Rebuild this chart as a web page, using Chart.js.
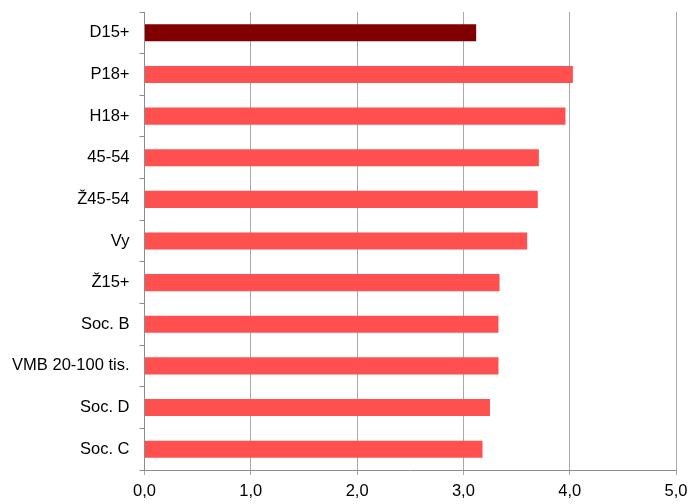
<!DOCTYPE html>
<html>
<head>
<meta charset="utf-8">
<script src="https://cdn.jsdelivr.net/npm/chart.js@4.4.0/dist/chart.umd.min.js"></script>
<style>
    html, body { margin: 0; padding: 0; background: #ffffff; }
    #wrap { width: 690px; height: 504px; }
</style>
</head>
<body>
<div id="wrap"><canvas id="graphCanvas" width="690" height="504"></canvas></div>
<script>
// Data
const categories = ['D15+', 'P18+', 'H18+', '45-54', 'Ž45-54', 'Vy', 'Ž15+', 'Soc. B', 'VMB 20-100 tis.', 'Soc. D', 'Soc. C'];
const values = [3.12, 4.03, 3.96, 3.71, 3.70, 3.60, 3.34, 3.33, 3.33, 3.25, 3.18];
const xTicks = [0, 1, 2, 3, 4, 5];

const highlight = '#800000';
const normal = '#ff5050';
const barColors = categories.map((c, i) => i === 0 ? highlight : normal);

const ctx = document.getElementById('graphCanvas').getContext('2d');

const chart = new Chart(ctx, {
    type: 'bar',
    data: {
        labels: categories,
        datasets: [{
            data: values,
            backgroundColor: barColors,
            borderWidth: 0,
            barPercentage: 0.41,
            categoryPercentage: 1.0
        }]
    },
    options: {
        indexAxis: 'y',
        responsive: false,
        animation: false,
        layout: {
            padding: { top: 12, right: 14, left: 0, bottom: 0 }
        },
        plugins: {
            legend: { display: false },
            tooltip: { enabled: false }
        },
        scales: {
            x: {
                type: 'linear',
                min: 0,
                max: 5,
                afterBuildTicks: function(scale) {
                    scale.ticks = xTicks.map(v => ({ value: v }));
                },
                afterFit: function(scale) {
                    scale.height = 34;
                    // let the layout padding decide the plot edges
                    scale.paddingLeft = 0;
                    scale.paddingRight = 0;
                },
                grid: {
                    color: '#a9a9a9',
                    lineWidth: 1,
                    drawTicks: true,
                    tickLength: 5
                },
                border: { color: '#8c8c8c', width: 1 },
                ticks: {
                    color: '#000000',
                    padding: 7,
                    font: { family: '"Liberation Sans", Arial, sans-serif', size: 16.5 },
                    callback: function(value) {
                        return value.toFixed(1).replace('.', ',');
                    }
                }
            },
            y: {
                afterFit: function(scale) {
                    scale.width = 144.5;
                    scale.paddingTop = 0;
                    scale.paddingBottom = 0;
                },
                grid: {
                    offset: true,
                    drawOnChartArea: false,
                    drawTicks: true,
                    tickLength: 5,
                    color: '#8c8c8c'
                },
                border: { color: '#8c8c8c', width: 1 },
                ticks: {
                    color: '#000000',
                    padding: 10,
                    font: { family: '"Liberation Sans", Arial, sans-serif', size: 16.5 }
                }
            }
        }
    }
});
</script>
</body>
</html>
